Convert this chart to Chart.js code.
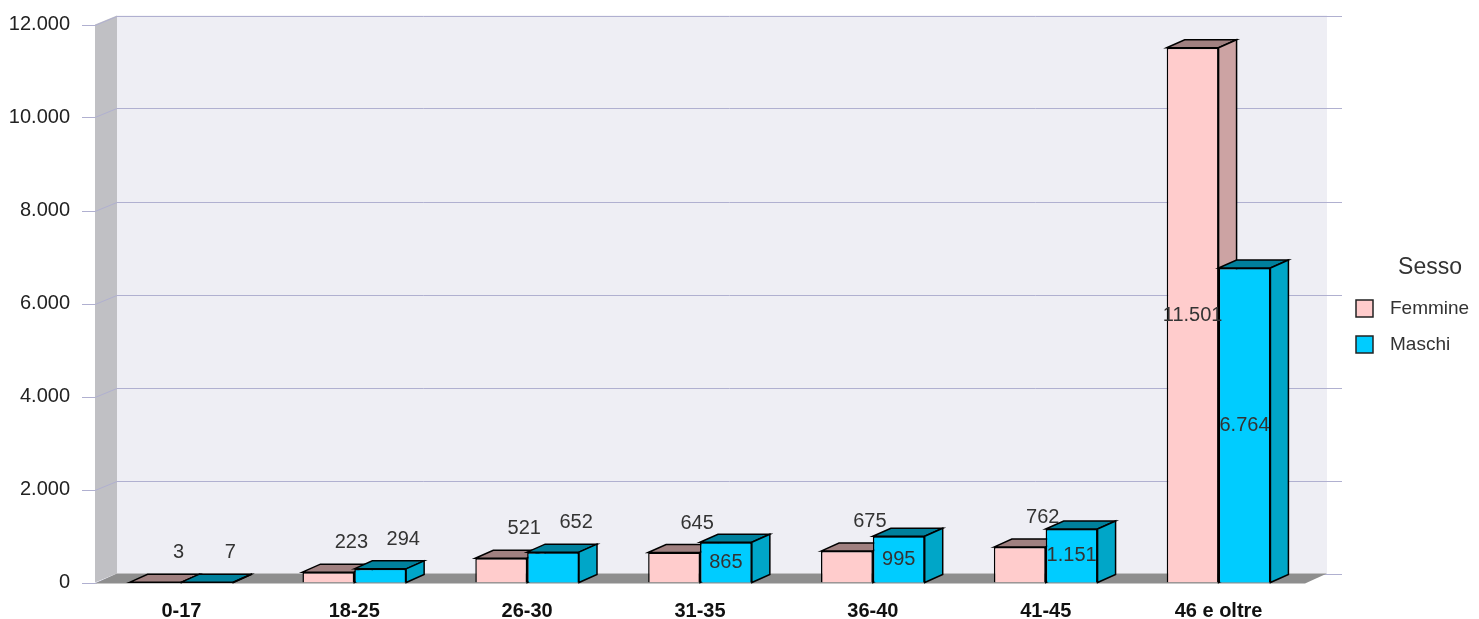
<!DOCTYPE html>
<html lang="it">
<head>
<meta charset="utf-8">
<title>Sesso per fascia di età</title>
<script src="https://cdn.jsdelivr.net/npm/chart.js@4/dist/chart.umd.min.js"></script>
<style>
  html, body { margin: 0; padding: 0; background: #fff; }
  #box { width: 1479px; height: 619px; position: relative; }
</style>
</head>
<body>
<div id="box"><canvas id="grafico"></canvas></div>
<script>
// Dati
const categorie = ['0-17', '18-25', '26-30', '31-35', '36-40', '41-45', '46 e oltre'];
const femmine = [3, 223, 521, 645, 675, 762, 11501];
const maschi = [7, 294, 652, 865, 995, 1151, 6764];
const serie = ['Femmine', 'Maschi'];
const titoloLegenda = 'Sesso';
const asseMax = 12000;
const asseStep = 2000;

const FONT = '"Liberation Sans", Arial, sans-serif';
// colori: fronte, cima, lato
const colori = [
  { fronte: '#ffcccc', cima: '#a08080', lato: '#cca3a3' },
  { fronte: '#00ccff', cima: '#00809c', lato: '#00a6c8' },
];
const BX = 18, BY = -8;   // profondità delle barre
const PX = 22, PY = -9;   // profondità delle pareti

function formatta(n) {
  return String(n).replace(/\B(?=(\d{3})+(?!\d))/g, '.');
}

function poligono(ctx, punti, colore) {
  ctx.beginPath();
  punti.forEach(([x, y], k) => (k ? ctx.lineTo(x, y) : ctx.moveTo(x, y)));
  ctx.closePath();
  ctx.fillStyle = colore;
  ctx.fill();
  ctx.stroke();
}

// Pareti, griglia e pavimento disegnati prima delle barre.
const sfondo3d = {
  id: 'sfondo3d',
  beforeDatasetsDraw(chart) {
    const { ctx, chartArea: a, scales: { y } } = chart;
    ctx.save();
    ctx.fillStyle = '#c0c0c4';
    ctx.beginPath();
    ctx.moveTo(a.left, a.top);
    ctx.lineTo(a.left + PX, a.top + PY);
    ctx.lineTo(a.left + PX, a.bottom + PY);
    ctx.lineTo(a.left, a.bottom);
    ctx.closePath();
    ctx.fill();

    ctx.fillStyle = '#eeeef4';
    ctx.fillRect(a.left + PX, a.top + PY, a.right - a.left, a.bottom - a.top);

    ctx.strokeStyle = '#b0b0d0';
    ctx.lineWidth = 1;
    y.ticks.forEach(t => {
      const py = Math.round(y.getPixelForValue(t.value)) + 0.5;
      ctx.beginPath();
      ctx.moveTo(a.left - 13, py);
      ctx.lineTo(a.left, py);
      ctx.lineTo(a.left + PX, py + PY);
      ctx.lineTo(a.right + PX + 15, py + PY);
      ctx.stroke();
    });

    ctx.fillStyle = '#8e8e8e';
    ctx.beginPath();
    ctx.moveTo(a.left, a.bottom + 1);
    ctx.lineTo(a.right, a.bottom + 1);
    ctx.lineTo(a.right + PX, a.bottom + PY);
    ctx.lineTo(a.left + PX, a.bottom + PY);
    ctx.closePath();
    ctx.fill();
    ctx.restore();
  },
};

function lati(ctx, el, c) {
  const { x, y, base, width } = el.getProps(['x', 'y', 'base', 'width'], true);
  const xl = x - width / 2, xr = x + width / 2;
  poligono(ctx, [[xl, y], [xl + BX, y + BY], [xr + BX, y + BY], [xr, y]], c.cima);
  poligono(ctx, [[xr, y], [xr + BX, y + BY], [xr + BX, base + BY], [xr, base]], c.lato);
}

// Cime, lati ed etichette dei valori.
const barre3d = {
  id: 'barre3d',
  afterDatasetsDraw(chart) {
    const ctx = chart.ctx;
    const metaF = chart.getDatasetMeta(0);
    const metaM = chart.getDatasetMeta(1);
    ctx.save();
    ctx.lineWidth = 1.5;
    ctx.strokeStyle = '#000';
    ctx.lineJoin = 'miter';
    categorie.forEach((c, i) => {
      lati(ctx, metaF.data[i], colori[0]);
      metaM.data[i].draw(ctx);   // la barra dei maschi copre il lato delle femmine
      ctx.lineWidth = 1.5;
      ctx.strokeStyle = '#000';
      lati(ctx, metaM.data[i], colori[1]);
    });

    ctx.font = '20px ' + FONT;
    ctx.fillStyle = '#333';
    ctx.textAlign = 'center';
    ctx.textBaseline = 'middle';
    [metaF, metaM].forEach((meta, d) => {
      const valori = d === 0 ? femmine : maschi;
      meta.data.forEach((el, i) => {
        const { x, y, base } = el.getProps(['x', 'y', 'base'], true);
        const testo = formatta(valori[i]);
        if (base - y >= 38) ctx.fillText(testo, x, (y + base) / 2);
        else ctx.fillText(testo, x + 23, y - 29.5);
      });
    });
    ctx.restore();
  },
  afterDraw(chart) {
    const { ctx, chartArea: a } = chart;
    const mid = (a.top + a.bottom) / 2;
    ctx.save();
    ctx.fillStyle = '#333';
    ctx.textBaseline = 'middle';
    ctx.textAlign = 'center';
    ctx.font = '23px ' + FONT;
    ctx.fillText(titoloLegenda, a.right + 125, mid - 35.5);
    ctx.textAlign = 'left';
    ctx.font = '19px ' + FONT;
    ctx.lineWidth = 1.5;
    ctx.strokeStyle = '#222';
    serie.forEach((s, k) => {
      const yc = mid + 5 + k * 36;
      ctx.fillStyle = colori[k].fronte;
      ctx.fillRect(a.right + 51, yc - 8.5, 17, 17);
      ctx.strokeRect(a.right + 51, yc - 8.5, 17, 17);
      ctx.fillStyle = '#333';
      ctx.fillText(s, a.right + 85, yc);
    });
    ctx.restore();
  },
};

new Chart(document.getElementById('grafico'), {
  type: 'bar',
  data: {
    labels: categorie,
    datasets: [femmine, maschi].map((dati, k) => ({
      label: serie[k],
      data: dati,
      backgroundColor: colori[k].fronte,
      borderColor: '#000',
      borderWidth: 1.5,
      categoryPercentage: 0.6,
      barPercentage: 1.0,
    })),
  },
  options: {
    responsive: true,
    maintainAspectRatio: false,
    animation: false,
    layout: { padding: { top: 24.5, right: 174, left: 0, bottom: 0 } },
    plugins: { legend: { display: false }, tooltip: { enabled: false } },
    scales: {
      x: {
        grid: { display: false },
        border: { display: false },
        ticks: { color: '#111', padding: 11, font: { family: FONT, size: 20, weight: 'bold', lineHeight: 1 } },
        afterFit(s) { s.height = 36.5; },
      },
      y: {
        min: 0,
        max: asseMax,
        grid: { display: false },
        border: { display: false },
        ticks: {
          stepSize: asseStep,
          padding: 17,
          color: '#222',
          font: { family: FONT, size: 20 },
          callback: v => formatta(v),
        },
        afterFit(s) {
          s.width = 95;
          // il padding delle etichette non deve spostare l'area del grafico
          s.paddingTop = 0;
          s.paddingBottom = 0;
        },
      },
    },
  },
  plugins: [sfondo3d, barre3d],
});
</script>
</body>
</html>
